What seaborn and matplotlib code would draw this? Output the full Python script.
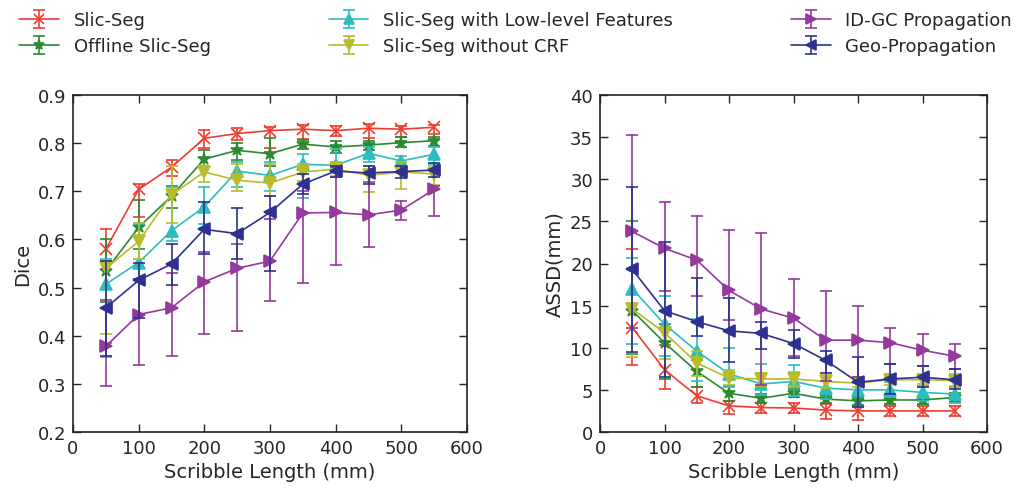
import numpy as np
import pandas as pd
import matplotlib
matplotlib.use("Agg")
import matplotlib.pyplot as plt
import seaborn as sns

# ---------------- data ----------------
lengths = [50, 100, 150, 200, 250, 300, 350, 400, 450, 500, 550]
methods = ["Slic-Seg", "Offline Slic-Seg", "Slic-Seg with Low-level Features",
           "Slic-Seg without CRF", "ID-GC Propagation", "Geo-Propagation"]

# Dice (mean, lower end of error bar, upper end of error bar)
slic_dice = [0.580, 0.704, 0.750, 0.810, 0.820, 0.826, 0.829, 0.826, 0.831, 0.829, 0.833]
slic_dice_lo = [0.385, 0.647, 0.731, 0.790, 0.806, 0.790, 0.808, 0.814, 0.810, 0.812, 0.819]
slic_dice_hi = [0.622, 0.716, 0.765, 0.828, 0.831, 0.834, 0.838, 0.835, 0.840, 0.836, 0.838]

offline_dice = [0.535, 0.625, 0.690, 0.767, 0.785, 0.778, 0.798, 0.792, 0.796, 0.801, 0.805]
offline_dice_lo = [0.470, 0.581, 0.665, 0.750, 0.765, 0.752, 0.788, 0.779, 0.786, 0.791, 0.795]
offline_dice_hi = [0.600, 0.682, 0.712, 0.786, 0.800, 0.810, 0.807, 0.805, 0.805, 0.812, 0.813]

lowlevel_dice = [0.507, 0.552, 0.618, 0.668, 0.742, 0.733, 0.756, 0.754, 0.779, 0.763, 0.777]
lowlevel_dice_lo = [0.356, 0.517, 0.597, 0.632, 0.708, 0.700, 0.687, 0.730, 0.760, 0.751, 0.756]
lowlevel_dice_hi = [0.560, 0.633, 0.709, 0.709, 0.760, 0.760, 0.777, 0.788, 0.792, 0.774, 0.791]

nocrf_dice = [0.540, 0.596, 0.693, 0.740, 0.723, 0.717, 0.740, 0.746, 0.733, 0.740, 0.736]
nocrf_dice_lo = [0.403, 0.560, 0.635, 0.720, 0.701, 0.690, 0.722, 0.732, 0.699, 0.704, 0.713]
nocrf_dice_hi = [0.555, 0.635, 0.753, 0.753, 0.756, 0.756, 0.756, 0.760, 0.753, 0.760, 0.752]

idgc_dice = [0.378, 0.444, 0.458, 0.512, 0.540, 0.555, 0.655, 0.656, 0.651, 0.661, 0.704]
idgc_dice_lo = [0.295, 0.339, 0.358, 0.403, 0.410, 0.472, 0.510, 0.546, 0.584, 0.640, 0.649]
idgc_dice_hi = [0.474, 0.517, 0.530, 0.573, 0.591, 0.642, 0.700, 0.750, 0.720, 0.680, 0.712]

geo_dice = [0.458, 0.515, 0.549, 0.621, 0.612, 0.656, 0.715, 0.742, 0.738, 0.741, 0.744]
geo_dice_lo = [0.358, 0.437, 0.505, 0.570, 0.560, 0.535, 0.694, 0.730, 0.716, 0.728, 0.730]
geo_dice_hi = [0.556, 0.550, 0.590, 0.678, 0.665, 0.690, 0.735, 0.753, 0.753, 0.753, 0.758]

# ASSD (mm)
slic_assd = [12.4, 7.4, 4.3, 3.1, 2.9, 2.85, 2.6, 2.5, 2.5, 2.5, 2.5]
slic_assd_lo = [8.0, 5.1, 3.4, 2.1, 2.2, 2.2, 1.5, 1.4, 1.9, 1.9, 1.9]
slic_assd_hi = [21.7, 10.3, 5.3, 3.7, 3.5, 3.5, 3.3, 3.1, 3.1, 3.1, 3.1]

offline_assd = [14.4, 10.6, 7.2, 4.6, 4.0, 4.6, 3.9, 3.7, 3.8, 3.8, 4.1]
offline_assd_lo = [9.2, 6.3, 5.3, 3.7, 3.5, 4.1, 3.4, 3.2, 3.3, 3.3, 3.6]
offline_assd_hi = [25.0, 12.8, 8.6, 5.5, 4.5, 5.1, 4.4, 4.2, 4.3, 4.3, 4.6]

lowlevel_assd = [17.0, 12.8, 9.6, 6.9, 5.7, 6.0, 5.2, 5.0, 5.0, 4.7, 4.5]
lowlevel_assd_lo = [10.4, 9.0, 6.0, 5.3, 4.4, 4.3, 3.9, 3.0, 4.1, 3.7, 3.5]
lowlevel_assd_hi = [20.6, 16.2, 13.4, 10.0, 8.1, 7.9, 6.1, 5.9, 5.9, 5.5, 5.4]

nocrf_assd = [14.6, 11.8, 8.2, 6.4, 6.3, 6.3, 6.0, 5.8, 6.2, 6.2, 6.1]
nocrf_assd_lo = [8.9, 8.7, 6.6, 5.6, 5.5, 5.5, 5.2, 5.4, 5.6, 5.7, 5.5]
nocrf_assd_hi = [23.8, 14.5, 9.6, 7.3, 7.0, 7.1, 6.7, 6.5, 6.5, 6.7, 6.9]

idgc_assd = [23.8, 21.8, 20.4, 16.8, 14.6, 13.5, 10.9, 10.9, 10.6, 9.7, 9.0]
idgc_assd_lo = [12.3, 16.7, 16.2, 13.3, 5.6, 9.0, 6.0, 6.5, 8.1, 7.8, 7.5]
idgc_assd_hi = [35.3, 27.3, 25.6, 24.0, 23.6, 18.2, 16.7, 15.0, 12.4, 11.6, 10.5]

geo_assd = [19.3, 14.4, 13.1, 12.0, 11.7, 10.5, 8.5, 5.9, 6.3, 6.5, 6.2]
geo_assd_lo = [9.5, 6.5, 11.4, 8.3, 9.8, 8.8, 7.0, 3.0, 4.5, 5.3, 5.1]
geo_assd_hi = [29.1, 22.6, 18.3, 15.9, 13.1, 12.1, 9.6, 8.9, 8.1, 7.8, 7.5]

dice_ticks = [0.2, 0.3, 0.4, 0.5, 0.6, 0.7, 0.8, 0.9]
dice_ticklabels = ["0.2", "0.3", "0.4", "0.5", "0.6", "0.7", "0.8", "0.9"]
assd_ticks = [0, 5, 10, 15, 20, 25, 30, 35, 40]
x_ticks = [0, 100, 200, 300, 400, 500, 600]

dice_series = {
    methods[0]: (slic_dice, slic_dice_lo, slic_dice_hi),
    methods[1]: (offline_dice, offline_dice_lo, offline_dice_hi),
    methods[2]: (lowlevel_dice, lowlevel_dice_lo, lowlevel_dice_hi),
    methods[3]: (nocrf_dice, nocrf_dice_lo, nocrf_dice_hi),
    methods[4]: (idgc_dice, idgc_dice_lo, idgc_dice_hi),
    methods[5]: (geo_dice, geo_dice_lo, geo_dice_hi),
}
assd_series = {
    methods[0]: (slic_assd, slic_assd_lo, slic_assd_hi),
    methods[1]: (offline_assd, offline_assd_lo, offline_assd_hi),
    methods[2]: (lowlevel_assd, lowlevel_assd_lo, lowlevel_assd_hi),
    methods[3]: (nocrf_assd, nocrf_assd_lo, nocrf_assd_hi),
    methods[4]: (idgc_assd, idgc_assd_lo, idgc_assd_hi),
    methods[5]: (geo_assd, geo_assd_lo, geo_assd_hi),
}


def long_frame(mean, lo, hi):
    rows = []
    for x, a, b, c in zip(lengths, lo, mean, hi):
        for v in (a, b, c):
            rows.append({"length": x, "value": v})
    return pd.DataFrame(rows)


# ---------------- style ----------------
palette = {
    methods[0]: "#f03c30",
    methods[1]: "#2a8a2e",
    methods[2]: "#2dbdbd",
    methods[3]: "#b8bb2a",
    methods[4]: "#953a9c",
    methods[5]: "#2e3192",
}
markers = {
    methods[0]: "x",
    methods[1]: "*",
    methods[2]: "^",
    methods[3]: "v",
    methods[4]: ">",
    methods[5]: "<",
}

sns.set_style("ticks")
plt.rcParams["font.family"] = ["DejaVu Sans"]
plt.rcParams["text.color"] = "#262626"

fig = plt.figure(figsize=(10.22, 4.89), dpi=100)
W, H = 1022, 489
ax1 = fig.add_axes([73 / W, 1 - 433 / H, 394 / W, 337 / H])
ax2 = fig.add_axes([600 / W, 1 - 433 / H, 387 / W, 337 / H])


def draw(ax, series):
    for m in methods:
        mean, lo, hi = series[m]
        df = long_frame(mean, lo, hi)
        sns.lineplot(
            data=df, x="length", y="value", color=palette[m],
            marker=markers[m], estimator="median",
            errorbar=lambda v: (v.min(), v.max()), err_style="bars",
            err_kws=dict(capsize=4, capthick=1.2, elinewidth=1.2),
            markersize=9, linewidth=1.2, markeredgecolor=palette[m],
            markeredgewidth=1.2, legend=False, ax=ax,
        )


draw(ax1, dice_series)
draw(ax2, assd_series)

for ax in (ax1, ax2):
    ax.set_xlim(0, 600)
    ax.set_xticks(x_ticks)
    ax.tick_params(direction="in", top=True, right=True, length=6, width=1,
                   labelsize=13, colors="#262626", pad=5)
    for s in ax.spines.values():
        s.set_linewidth(1.2)
        s.set_color("#222222")
    ax.set_xlabel("Scribble Length (mm)", fontsize=14)

ax1.set_ylim(0.2, 0.9)
ax1.set_yticks(dice_ticks)
ax1.set_yticklabels(dice_ticklabels)
ax1.set_ylabel("Dice", fontsize=14)

ax2.set_ylim(0, 40)
ax2.set_yticks(assd_ticks)
ax2.set_ylabel("ASSD(mm)", fontsize=14)

# legend proxies in errorbar style
handles = []
for m in methods:
    h = ax1.errorbar([np.nan], [np.nan], yerr=[[np.nan], [np.nan]],
                     color=palette[m], marker=markers[m], markersize=7,
                     markeredgewidth=1.2, capsize=4, linewidth=1.2)
    handles.append(h)

fig.legend(handles, methods, ncol=3, loc="lower left",
           bbox_to_anchor=(0.012, 0.87, 0.985, 0.13), mode="expand",
           frameon=False, fontsize=13, handlelength=2.2, handletextpad=0.8,
           labelspacing=0.45, borderaxespad=0.0)

fig.savefig("out.png", dpi=100)
